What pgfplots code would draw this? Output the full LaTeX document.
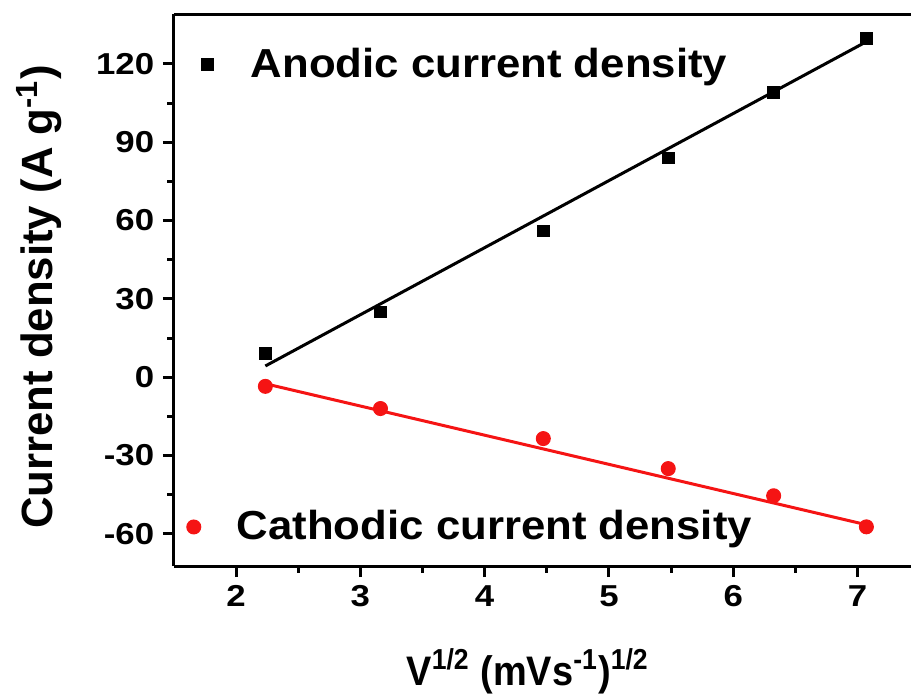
\documentclass[border=0pt]{standalone}
\usepackage{pgfplots}
\pgfplotsset{compat=1.18}
\usepackage{fontspec}
\setmainfont{Liberation Sans}
\newfontfamily\tickfont[FakeStretch=1.15]{Liberation Sans}
\newfontfamily\legfont[FakeStretch=1.08]{Liberation Sans}
\newfontfamily\xlabfont[FakeStretch=0.92]{Liberation Sans}
\definecolor{myred}{RGB}{245,20,20}
\begin{document}
\begin{tikzpicture}
\pgfplotsset{
  common/.style={
    scale only axis, width=294.8pt, height=220.8pt,
    xmin=1.501, xmax=7.43, ymin=-72.3, ymax=139.1,
    clip=false,
  },
  leg/.style={
    legend cell align=left,
    legend image code/.code={\path (-3pt,0pt) (15pt,0pt); \draw[##1] plot coordinates {(0pt,0pt)};},
    legend style={draw=none, fill=none, font=\legfont\fontsize{16.2}{19}\selectfont\bfseries,
      anchor=west, inner sep=0pt, outer sep=0pt},
  },
}
\begin{axis}[common, leg, name=main,
  axis x line*=bottom, axis y line*=left,
  axis line style={line width=1.2pt},
  xtick={2,3,4,5,6,7}, ytick={-60,-30,0,30,60,90,120},
  minor x tick num=1, minor y tick num=1,
  tick align=outside, major tick length=4.4pt, minor tick length=2.6pt,
  every tick/.style={line width=1.2pt, black},
  /pgf/number format/assume math mode=true,
  ticklabel style={font=\tickfont\fontsize{12.1}{14}\selectfont\bfseries},
  every axis x label/.style={at={(rel axis cs:0.48,0)}, anchor=base, yshift=-47.6pt,
    font=\xlabfont\fontsize{16.5}{19}\selectfont\bfseries},
  every axis y label/.style={at={([xshift=-48.4pt]rel axis cs:0,0.487)}, rotate=90, anchor=base,
    font=\fontsize{17.5}{20}\selectfont\bfseries},
  xlabel={V\textsuperscript{1/2} (mVs\textsuperscript{-1})\textsuperscript{1/2}},
  ylabel={Current density (A g\textsuperscript{-1})},
  legend style={at={(0.035,0.909)}},
]
\addplot[only marks, mark=square*, mark size=2.35pt, black]
  coordinates {(2.236,9.2) (3.162,25) (4.472,56) (5.477,84) (6.325,109) (7.071,129.6)};
\addlegendentry{Anodic current density}
\addplot[black, line width=1.2pt, forget plot]
  coordinates {(2.236,4.3) (7.071,128.5)};
\draw[line width=1.2pt] (rel axis cs:0,1) -- (rel axis cs:1,1);
\end{axis}
\begin{axis}[common, leg, hide axis,
  legend style={at={(0.016,0.0707)}},
]
\addplot[only marks, mark=*, mark size=2.8pt, myred]
  coordinates {(2.236,-3.5) (3.162,-12) (4.472,-23.5) (5.477,-35) (6.325,-45.4) (7.071,-57.3)};
\addlegendentry{Cathodic current density}
\addplot[myred, line width=1.2pt, forget plot]
  coordinates {(2.236,-2.5) (7.071,-56.5)};
\end{axis}
\pgfresetboundingbox
\path ([xshift=-69.6pt,yshift=-52.4pt]main.south west) rectangle ([yshift=5.6pt]main.north east);
\end{tikzpicture}
\end{document}
